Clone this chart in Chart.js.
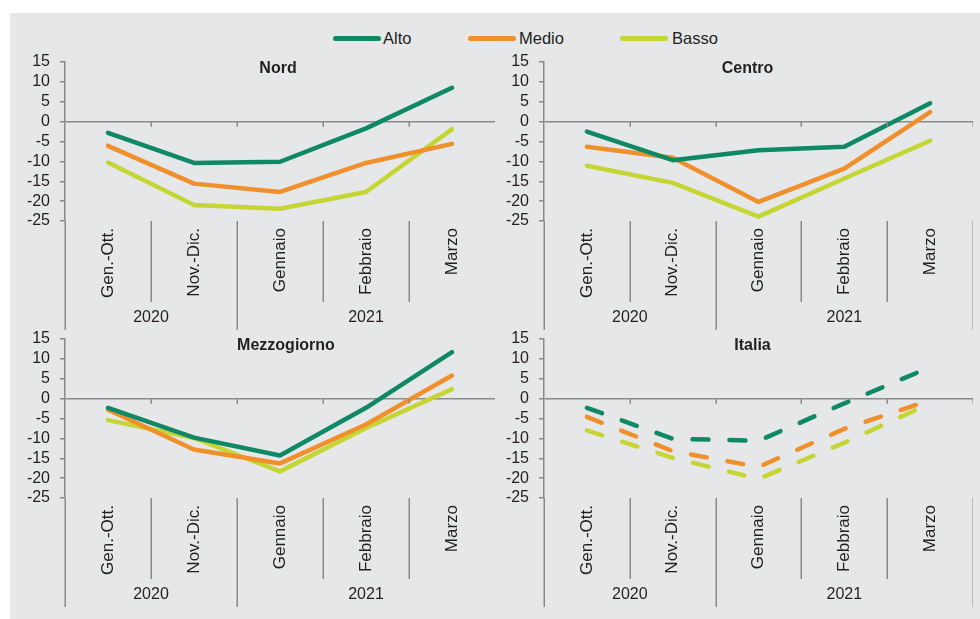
<!DOCTYPE html>
<html>
<head>
<meta charset="utf-8">
<script src="https://cdn.jsdelivr.net/npm/chart.js@4.4.1/dist/chart.umd.min.js"></script>
<style>
  html, body { margin: 0; padding: 0; background: #ffffff; width: 980px; height: 619px; overflow: hidden; }
  #bg { position: absolute; left: 10px; top: 13px; width: 970px; height: 606px; background: #e6e7e8; }
  .panel { position: absolute; }
  .leg { position: absolute; font-family: 'Liberation Sans', Arial, sans-serif; font-size: 16.5px; color: #231f20; line-height: 20px; }
  .sw { position: absolute; height: 5px; border-radius: 3px; }
</style>
</head>
<body>
<div id="bg"></div>
<div id="legend"></div>
<canvas id="c1" class="panel" width="485" height="320" style="left:10px;top:13px;width:485px;height:320px"></canvas>
<canvas id="c2" class="panel" width="483" height="320" style="left:490px;top:13px;width:483px;height:320px"></canvas>
<canvas id="c3" class="panel" width="485" height="320" style="left:10px;top:290px;width:485px;height:320px"></canvas>
<canvas id="c4" class="panel" width="483" height="320" style="left:490px;top:290px;width:483px;height:320px"></canvas>
<script>
// ---- Data ----
const categories = ['Gen.-Ott.', 'Nov.-Dic.', 'Gennaio', 'Febbraio', 'Marzo'];
const years = ['2020', '2021'];
const yearSpans = [2, 3];
const seriesNames = ['Alto', 'Medio', 'Basso'];
const yMin = -25, yMax = 15, yStep = 5;

const nordAlto  = [-2.8, -10.4, -10.1, -1.7, 8.5];
const nordMedio = [-6.1, -15.6, -17.7, -10.4, -5.6];
const nordBasso = [-10.3, -21.0, -21.9, -17.7, -1.9];

const centroAlto  = [-2.5, -9.7, -7.2, -6.3, 4.6];
const centroMedio = [-6.3, -9.1, -20.2, -11.8, 2.4];
const centroBasso = [-11.1, -15.4, -23.9, -14.3, -4.8];

const mezzAlto  = [-2.3, -9.8, -14.3, -2.3, 11.7];
const mezzMedio = [-2.8, -12.8, -16.3, -6.5, 5.8];
const mezzBasso = [-5.4, -9.9, -18.3, -7.4, 2.4];

const italiaAlto  = [-2.3, -10.1, -10.6, -1.2, 7.9];
const italiaMedio = [-4.6, -13.2, -17.2, -7.6, -0.4];
const italiaBasso = [-8.0, -14.9, -20.2, -11.1, -1.2];

// ---- Style ----
const colors = ['#0f8865', '#f0902c', '#c5d634'];
const FONT = "'Liberation Sans', Arial, sans-serif";
const TXT = '#231f20';
const AX = '#8a8a8a';

// Legend (HTML)
const legendPos = [[333, 383], [468, 519], [620, 672]];
const legEl = document.getElementById('legend');
seriesNames.forEach((n, i) => {
  const sw = document.createElement('div');
  sw.className = 'sw';
  sw.style.left = legendPos[i][0] + 'px';
  sw.style.top = '36px';
  sw.style.width = '48px';
  sw.style.background = colors[i];
  legEl.appendChild(sw);
  const t = document.createElement('div');
  t.className = 'leg';
  t.style.left = legendPos[i][1] + 'px';
  t.style.top = '28px';
  t.textContent = n;
  legEl.appendChild(t);
});

const decoPlugin = {
  id: 'deco',
  afterDraw(chart, args, opts) {
    const ctx = chart.ctx;
    const xs = chart.scales.x, ys = chart.scales.y;
    const area = chart.chartArea;
    const n = categories.length;
    const bnd = i => xs.getPixelForValue(i - 0.5);
    const zeroY = ys.getPixelForValue(0);
    ctx.save();
    ctx.strokeStyle = AX;
    ctx.lineWidth = 1.5;
    const groupB = [0];
    yearSpans.forEach(s => groupB.push(groupB[groupB.length - 1] + s));
    for (let i = 0; i <= n; i++) {
      const x = Math.round(bnd(i)) + 0.25;
      const isGroup = groupB.includes(i);
      if (i === n && !opts.rightEdge) continue;
      if (i > 0) {
        ctx.beginPath(); ctx.moveTo(x, zeroY); ctx.lineTo(x, zeroY + 5); ctx.stroke();
      }
      ctx.beginPath();
      ctx.moveTo(x, area.bottom);
      ctx.lineTo(x, area.bottom + (isGroup ? 109 : 81));
      ctx.stroke();
    }
    ctx.fillStyle = TXT;
    ctx.font = '16px ' + FONT;
    ctx.textAlign = 'center';
    ctx.textBaseline = 'middle';
    for (let g = 0; g < years.length; g++) {
      const cx = (bnd(groupB[g]) + bnd(groupB[g + 1])) / 2;
      ctx.fillText(years[g], cx, area.bottom + 97);
    }
    ctx.font = 'bold 16px ' + FONT;
    ctx.fillText(opts.title, (area.left + area.right) / 2 + (opts.dx || 0), area.top + 7);
    ctx.restore();
  }
};

function makeChart(id, title, dx, data3, dashed, yWidth, rightEdge) {
  const ds = data3.map((d, i) => ({
    label: seriesNames[i],
    data: d,
    borderColor: colors[i],
    backgroundColor: colors[i],
    borderWidth: 4.5,
    pointRadius: 0,
    tension: 0,
    borderDash: dashed ? [16, 21] : [],
    borderCapStyle: 'round',
    borderJoinStyle: 'round',
    fill: false,
    order: i
  }));
  return new Chart(document.getElementById(id), {
    type: 'line',
    data: { labels: categories, datasets: ds },
    options: {
      responsive: false,
      animation: false,
      devicePixelRatio: 1,
      layout: { padding: { top: 49, left: 0, right: 0, bottom: 0 } },
      plugins: {
        legend: { display: false },
        tooltip: { enabled: false },
        deco: { title: title, dx: dx, rightEdge: rightEdge }
      },
      scales: {
        x: {
          type: 'category',
          offset: true,
          grid: { display: false, drawTicks: false, offset: true },
          border: { display: false },
          ticks: {
            autoSkip: false, minRotation: 90, maxRotation: 90,
            font: { family: FONT, size: 17 }, color: TXT, padding: 7
          },
          afterFit: s => { s.height = 112; }
        },
        y: {
          min: yMin, max: yMax,
          ticks: { stepSize: yStep, autoSkip: false, font: { family: FONT, size: 16 }, color: TXT, padding: 10 },
          border: { color: AX, width: 1.5 },
          grid: {
            color: c => (c.tick && c.tick.value === 0) ? AX : 'rgba(0,0,0,0)',
            tickColor: AX, tickLength: 5, lineWidth: 1.5
          },
          afterFit: s => { s.width = yWidth; }
        }
      }
    },
    plugins: [decoPlugin]
  });
}

makeChart('c1', 'Nord', -2, [nordAlto, nordMedio, nordBasso], false, 55, false);
makeChart('c2', 'Centro', -11, [centroAlto, centroMedio, centroBasso], false, 54, true);
makeChart('c3', 'Mezzogiorno', 6, [mezzAlto, mezzMedio, mezzBasso], false, 55, false);
makeChart('c4', 'Italia', -6, [italiaAlto, italiaMedio, italiaBasso], true, 54, true);
</script>
</body>
</html>
